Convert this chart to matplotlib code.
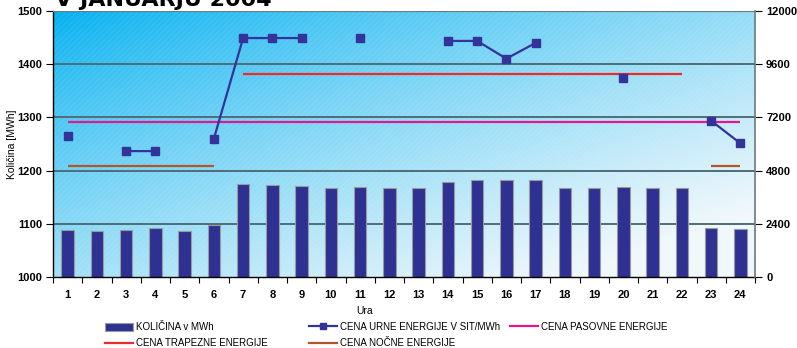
import matplotlib
matplotlib.use("Agg")
import matplotlib.pyplot as plt
import numpy as np
from matplotlib.lines import Line2D
from matplotlib.patches import Patch, Rectangle

# hourly data
hours = list(range(1, 25))
kolicina = [1088, 1087, 1089, 1092, 1087, 1097, 1175, 1173, 1171, 1168, 1170, 1168,
            1168, 1178, 1182, 1183, 1183, 1168, 1168, 1169, 1168, 1168, 1092, 1091]
nan = np.nan
cena_urne = [6380, nan, 5680, 5680, nan, 6240, 10780, 10780, 10780, nan, 10780, nan,
             nan, 10650, 10650, 9850, 10560, nan, nan, 8980, nan, nan, 7050, 6030]

cena_pasovne = 7000
pasovne_span = (1, 24)
cena_trapezne = 9180
trapezne_span = (7, 22)
cena_nocne = 5000
nocne_spans = [(1, 6), (23, 24)]

left_ticks = [1000, 1100, 1200, 1300, 1400, 1500]
right_ticks = [0, 2400, 4800, 7200, 9600, 12000]

plt.rcParams['font.family'] = ['Liberation Sans', 'DejaVu Sans']
plt.rcParams['hatch.linewidth'] = 0.5

BAR_COLOR = '#2e3192'
LINE_COLOR = '#333399'
PASOVNA_COLOR = '#e5178c'
TRAPEZNA_COLOR = '#ee2a2a'
NOCNA_COLOR = '#b5562a'
GRID_COLOR = '#4f6d78'

W, H = 797, 348
fig = plt.figure(figsize=(W / 100, H / 100), dpi=100)
ax = fig.add_axes([53 / W, 1 - 277 / H, (755 - 53) / W, (277 - 11) / H])

# diagonal gradient background
nx, ny = 300, 150
xf = np.linspace(0, 1, nx)[None, :]
yf = np.linspace(0, 1, ny)[:, None]  # 0 at top
t = np.clip(0.55 * xf + 0.6 * yf, 0, 1) ** 0.8
c0 = np.array([0, 176, 240]) / 255
c1 = np.array([240, 248, 251]) / 255
img = c0[None, None, :] * (1 - t[..., None]) + c1[None, None, :] * t[..., None]
ax.imshow(img, extent=[0.5, 24.5, 1000, 1500], aspect='auto', zorder=0,
          interpolation='bilinear')
ax.add_patch(Rectangle((0.5, 1000), 24, 500, facecolor='none', hatch='//////',
                       edgecolor=(1, 1, 1, 0.13), linewidth=0, zorder=0.5))

ax.bar(hours, kolicina, width=0.42, color=BAR_COLOR, edgecolor='#9a9a9a',
       linewidth=0.8, zorder=2)

ax.set_xlim(0.5, 24.5)
ax.set_ylim(1000, 1500)
ax.set_yticks(left_ticks)
for y in left_ticks[1:]:
    ax.axhline(y, color=GRID_COLOR, lw=1.4, zorder=1)

ax.set_xticks(hours)
ax.set_xticks(np.arange(0.5, 25, 1), minor=True)
ax.tick_params(axis='x', which='major', length=0, pad=9)
ax.tick_params(axis='x', which='minor', length=4, width=0.8)
ax.tick_params(axis='y', length=5, width=0.8, pad=3)
for lbl in ax.get_xticklabels() + ax.get_yticklabels():
    lbl.set_fontweight('bold')
    lbl.set_fontsize(8)
ax.set_ylabel('Količina [MWh]', fontsize=7.5)
ax.yaxis.set_label_coords((17 - 53) / 702, 0.5)

for side in ['top', 'right']:
    ax.spines[side].set_visible(False)
ax.spines['left'].set_linewidth(1.0)
ax.spines['bottom'].set_linewidth(1.0)

ax2 = ax.twinx()
ax2.set_ylim(0, 12000)
ax2.set_yticks(right_ticks)
ax2.tick_params(axis='y', length=5, width=0.8, pad=3)
for lbl in ax2.get_yticklabels():
    lbl.set_fontweight('bold')
    lbl.set_fontsize(8)
for side in ['top', 'left', 'bottom']:
    ax2.spines[side].set_visible(False)
ax2.spines['right'].set_color('#6b7b80')
ax2.spines['right'].set_linewidth(1.2)
ax2.axhline(12000, color='#6b7b80', lw=1.6, zorder=1)

ax2.hlines(cena_pasovne, *pasovne_span, color=PASOVNA_COLOR, lw=1.6, zorder=3)
ax2.hlines(cena_trapezne, *trapezne_span, color=TRAPEZNA_COLOR, lw=1.6, zorder=3)
for span in nocne_spans:
    ax2.hlines(cena_nocne, *span, color=NOCNA_COLOR, lw=1.6, zorder=3)
ax2.plot(hours, cena_urne, color=LINE_COLOR, lw=1.6, marker='s', markersize=5.5,
         zorder=4)

fig.text(365 / W, 1 - 311 / H, 'Ura', ha='center', va='center', fontsize=7.5)

# title, mostly above the top edge
fig.text(55 / W, 1 - 6 / H, 'V JANUARJU 2004', ha='left', va='baseline',
         fontsize=16, fontweight='black', family='DejaVu Sans')

h_kol = Patch(facecolor=BAR_COLOR, edgecolor='#9a9a9a', linewidth=0.8)
h_urne = Line2D([], [], color=LINE_COLOR, lw=1.6, marker='s', markersize=5)
h_pas = Line2D([], [], color=PASOVNA_COLOR, lw=1.6)
h_trap = Line2D([], [], color=TRAPEZNA_COLOR, lw=1.6)
h_noc = Line2D([], [], color=NOCNA_COLOR, lw=1.6)

columns = [
    (105, [h_kol, h_trap], ['KOLIČINA v MWh', 'CENA TRAPEZNE ENERGIJE']),
    (309, [h_urne, h_noc], ['CENA URNE ENERGIJE V SIT/MWh', 'CENA NOČNE ENERGIJE']),
    (510, [h_pas], ['CENA PASOVNE ENERGIJE']),
]
for x0, handles, labels in columns:
    fig.legend(handles, labels, loc='upper left',
               bbox_to_anchor=(x0 / W, 1 - 322 / H), frameon=False,
               fontsize=7, handlelength=2.9, handleheight=0.9,
               handletextpad=0.3, labelspacing=0.65, borderpad=0,
               borderaxespad=0)

fig.savefig('out.png', dpi=100)
